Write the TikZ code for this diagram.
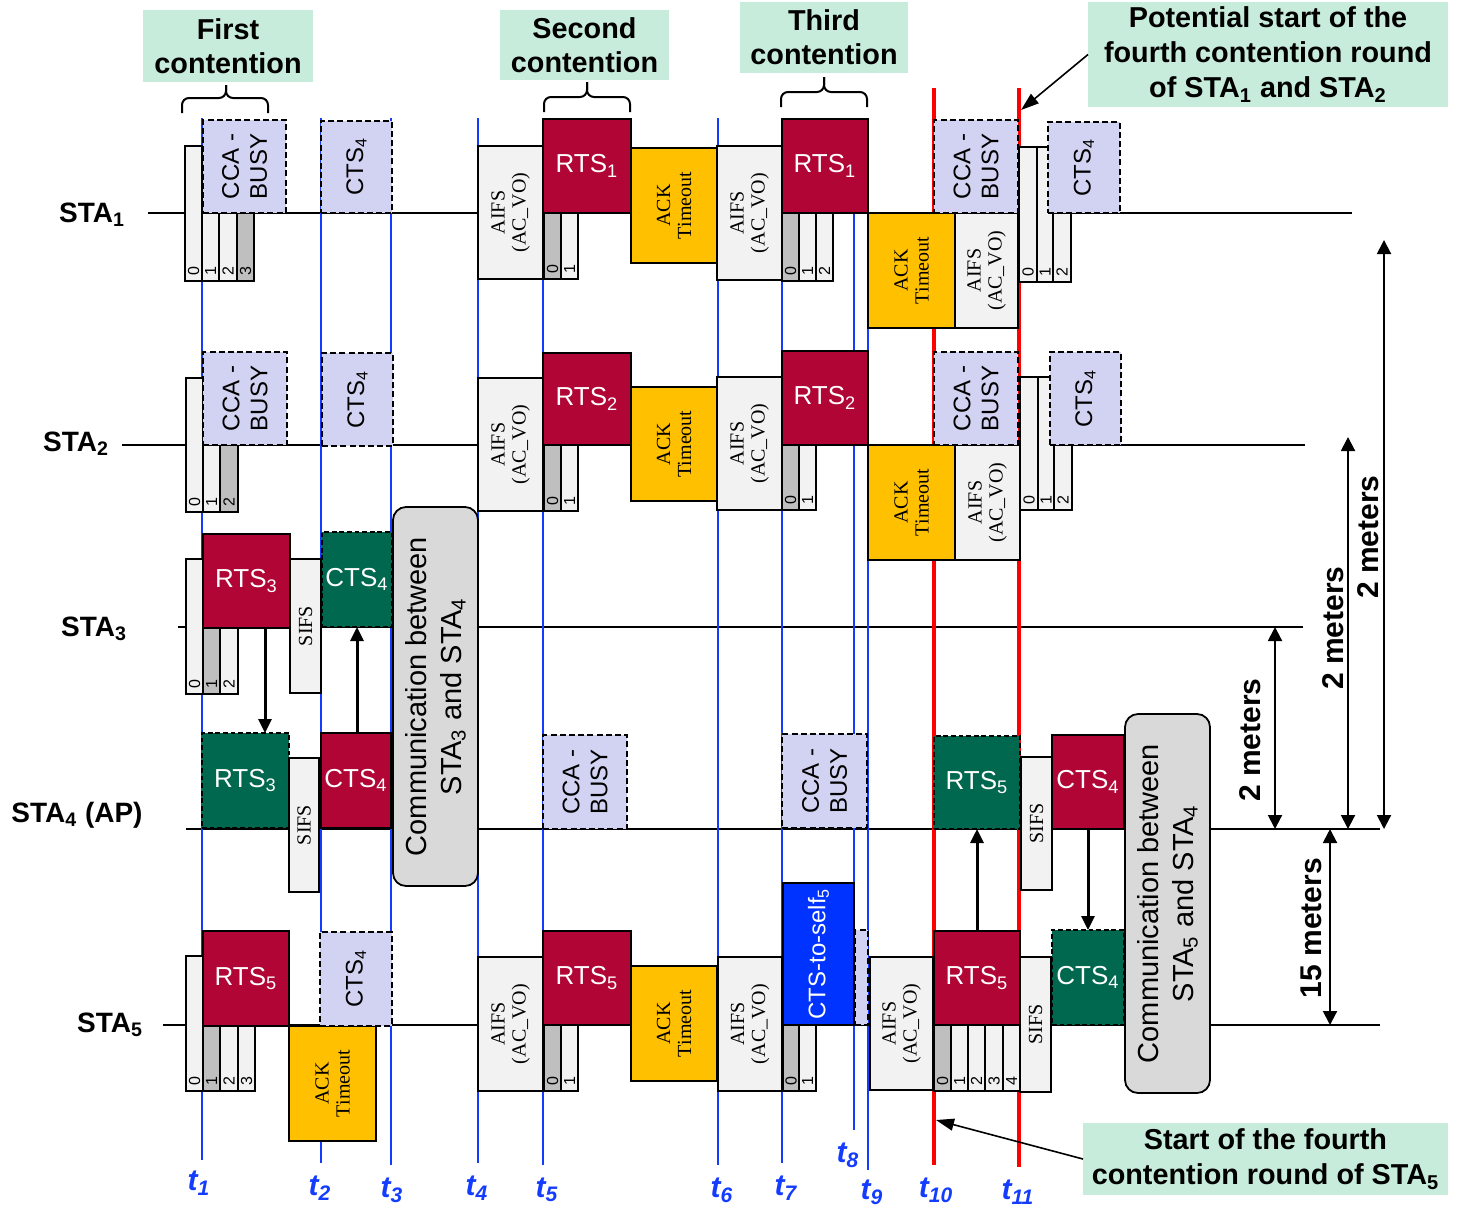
\documentclass[tikz,border=0pt]{standalone}
\usepackage{fontspec}
\setmainfont{Liberation Sans}
\newfontfamily\serifs{Liberation Serif}
\usetikzlibrary{fit,arrows.meta}
\definecolor{crim}{RGB}{176,5,53}
\definecolor{dgreen}{RGB}{0,104,78}
\definecolor{lav}{RGB}{210,210,242}
\definecolor{amber}{RGB}{255,192,0}
\definecolor{lgray}{RGB}{242,242,242}
\definecolor{mgray}{RGB}{191,191,191}
\definecolor{cgray}{RGB}{217,217,217}
\definecolor{mint}{RGB}{200,236,220}
\definecolor{tblue}{RGB}{20,60,255}
\definecolor{cblue}{RGB}{0,51,255}
\newcommand\sbs[1]{\textsubscript{#1}}
\newcommand\bx[6]{\node[#1, fit={(#3,#4) (#5,#6)}] (#2) {};}
\tikzset{
  bxbase/.style={draw=black, line width=0.9pt, inner sep=0pt, outer sep=0pt},
  aifsbox/.style={bxbase, fill=lgray},
  slotw/.style={bxbase, fill=lgray},
  slotg/.style={bxbase, fill=mgray},
  rtsbox/.style={bxbase, fill=crim},
  grnbox/.style={bxbase, fill=dgreen, line width=1pt, dash pattern=on 2.4pt off 1.4pt},
  lavbox/.style={bxbase, fill=lav, line width=1.2pt, dash pattern=on 3pt off 1.6pt},
  ackbox/.style={bxbase, fill=amber},
  selfbox/.style={bxbase, fill=cblue},
  commbox/.style={bxbase, fill=cgray, rounded corners=6.5pt},
  mintbox/.style={fill=mint, inner sep=0pt, outer sep=0pt},
  wtxt/.style={text=white, font=\fontsize{13}{15}\selectfont},
  lavt/.style={rotate=90, align=center, font=\fontsize{12}{14}\selectfont},
  sert/.style={rotate=90, align=center, font=\serifs\fontsize{10}{10.5}\selectfont},
  digt/.style={rotate=90, anchor=west, inner xsep=2.5pt, inner ysep=0pt, font=\fontsize{8}{9}\selectfont},
  commt/.style={rotate=90, align=center, font=\fontsize{14.5}{17.5}\selectfont},
  annt/.style={align=center, font=\bfseries\fontsize{14.4}{17.2}\selectfont},
  stalab/.style={font=\bfseries\fontsize{14}{16}\selectfont},
  tlab/.style={text=tblue, font=\bfseries\itshape\fontsize{15}{17}\selectfont},
  measlab/.style={rotate=90, font=\bfseries\fontsize{15}{17}\selectfont},
  rowline/.style={line width=1pt},
  tline/.style={draw=tblue, line width=1pt},
  rline/.style={draw=red, line width=1.8pt},
  arr/.style={line width=1.5pt, -{Triangle[length=7pt,width=6.5pt]}},
  meas/.style={line width=1pt, {Triangle[length=7pt,width=7pt]}-{Triangle[length=7pt,width=7pt]}},
  annarr/.style={line width=0.8pt, -{Triangle[length=9pt,width=6pt]}},
  bracket/.style={line width=1pt, rounded corners=3.5pt}
}
\begin{document}
\begin{tikzpicture}[x=0.5pt, y=-0.5pt]
\useasboundingbox (0,0) rectangle (1460,1211);

% row lines
\draw[rowline] (148,213) -- (1352,213);
\draw[rowline] (122,445) -- (1305,445);
\draw[rowline] (178,627) -- (1303,627);
\draw[rowline] (186,829) -- (1380,829);
\draw[rowline] (163,1025) -- (1380,1025);

% row labels
\node[stalab] (l1) at (92,215) {STA\sbs{1}};
\node[stalab] (l2) at (76,444) {STA\sbs{2}};
\node[stalab] (l3) at (94,629) {STA\sbs{3}};
\node[stalab] (l4) at (77,815) {STA\sbs{4} (AP)};
\node[stalab] (l5) at (110,1025) {STA\sbs{5}};

% time lines
\draw[tline] (202,118) -- (202,1160);
\draw[tline] (321,118) -- (321,1163);
\draw[tline] (391,118) -- (391,1165);
\draw[tline] (478,118) -- (478,1163);
\draw[tline] (543,118) -- (543,1165);
\draw[tline] (718,118) -- (718,1165);
\draw[tline] (782,118) -- (782,1163);
\draw[tline] (854,118) -- (854,1130);
\draw[tline] (868,118) -- (868,1170);
\draw[rline] (934,88) -- (934,1165);
\draw[rline] (1019,88) -- (1019,1167);

\node[tlab] (t1) at (199,1183) {t\sbs{1}};
\node[tlab] (t2) at (320,1188) {t\sbs{2}};
\node[tlab] (t3) at (392,1190) {t\sbs{3}};
\node[tlab] (t4) at (477,1188) {t\sbs{4}};
\node[tlab] (t5) at (547,1190) {t\sbs{5}};
\node[tlab] (t6) at (722,1190) {t\sbs{6}};
\node[tlab] (t7) at (786,1188) {t\sbs{7}};
\node[tlab] (t8) at (848,1155) {t\sbs{8}};
\node[tlab] (t9) at (872,1192) {t\sbs{9}};
\node[tlab] (t10) at (936,1190) {t\sbs{10}};
\node[tlab] (t11) at (1018,1192) {t\sbs{11}};

% ===== STA1 =====
\bx{slotw}{s1a0}{185}{146}{202}{281}
\bx{slotw}{s1a1}{202}{213}{219}{281}
\bx{slotw}{s1a2}{219}{213}{237}{281}
\bx{slotg}{s1a3}{237}{213}{254}{281}
\node[digt] at (s1a0.south) {0};
\node[digt] at (s1a1.south) {1};
\node[digt] at (s1a2.south) {2};
\node[digt] at (s1a3.south) {3};
\bx{lavbox}{cca1a}{203}{120}{286}{213}
\node[lavt] at (cca1a) {CCA -\\BUSY};
\bx{lavbox}{cts1a}{321}{121}{392}{213}
\node[lavt] at (cts1a) {CTS\sbs{4}};
\bx{aifsbox}{aifs1a}{478}{146}{543}{279}
\node[sert] at (aifs1a) {AIFS\\(AC\_VO)};
\bx{rtsbox}{rts1a}{543}{119}{631}{213}
\node[wtxt] at (rts1a) {RTS\sbs{1}};
\bx{slotg}{s1b0}{544}{213}{561}{279}
\bx{slotw}{s1b1}{561}{213}{578}{279}
\node[digt] at (s1b0.south) {0};
\node[digt] at (s1b1.south) {1};
\bx{ackbox}{ack1a}{631}{148}{717}{263}
\node[sert] at (ack1a) {ACK\\Timeout};
\bx{aifsbox}{aifs1b}{717}{146}{782}{280}
\node[sert] at (aifs1b) {AIFS\\(AC\_VO)};
\bx{rtsbox}{rts1b}{782}{119}{868}{213}
\node[wtxt] at (rts1b) {RTS\sbs{1}};
\bx{slotg}{s1c0}{782}{213}{799}{281}
\bx{slotw}{s1c1}{799}{213}{816}{281}
\bx{slotw}{s1c2}{816}{213}{833}{281}
\node[digt] at (s1c0.south) {0};
\node[digt] at (s1c1.south) {1};
\node[digt] at (s1c2.south) {2};
\bx{ackbox}{ack1b}{868}{213}{955}{328}
\node[sert] at (ack1b) {ACK\\Timeout};
\bx{aifsbox}{aifs1c}{955}{213}{1018}{328}
\node[sert] at (aifs1c) {AIFS\\(AC\_VO)};
\bx{lavbox}{cca1b}{934}{120}{1018}{213}
\node[lavt] at (cca1b) {CCA -\\BUSY};
\bx{slotw}{s1d0}{1019}{147}{1037}{282}
\bx{slotw}{s1d1}{1037}{147}{1053}{282}
\bx{slotw}{s1d2}{1053}{213}{1071}{282}
\node[digt] at (s1d0.south) {0};
\node[digt] at (s1d1.south) {1};
\node[digt] at (s1d2.south) {2};
\bx{lavbox}{cts1b}{1048}{122}{1120}{213}
\node[lavt] at (cts1b) {CTS\sbs{4}};

% ===== STA2 =====
\bx{slotw}{s2a0}{186}{378}{203}{512}
\bx{slotw}{s2a1}{203}{445}{220}{512}
\bx{slotg}{s2a2}{220}{445}{238}{512}
\node[digt] at (s2a0.south) {0};
\node[digt] at (s2a1.south) {1};
\node[digt] at (s2a2.south) {2};
\bx{lavbox}{cca2a}{203}{352}{287}{445}
\node[lavt] at (cca2a) {CCA -\\BUSY};
\bx{lavbox}{cts2a}{322}{353}{393}{446}
\node[lavt] at (cts2a) {CTS\sbs{4}};
\bx{aifsbox}{aifs2a}{478}{378}{543}{511}
\node[sert] at (aifs2a) {AIFS\\(AC\_VO)};
\bx{rtsbox}{rts2a}{543}{353}{631}{445}
\node[wtxt] at (rts2a) {RTS\sbs{2}};
\bx{slotg}{s2b0}{544}{445}{561}{511}
\bx{slotw}{s2b1}{561}{445}{578}{511}
\node[digt] at (s2b0.south) {0};
\node[digt] at (s2b1.south) {1};
\bx{ackbox}{ack2a}{631}{387}{717}{501}
\node[sert] at (ack2a) {ACK\\Timeout};
\bx{aifsbox}{aifs2b}{717}{377}{782}{510}
\node[sert] at (aifs2b) {AIFS\\(AC\_VO)};
\bx{rtsbox}{rts2b}{782}{351}{868}{445}
\node[wtxt] at (rts2b) {RTS\sbs{2}};
\bx{slotg}{s2c0}{782}{445}{799}{510}
\bx{slotw}{s2c1}{799}{445}{816}{510}
\node[digt] at (s2c0.south) {0};
\node[digt] at (s2c1.south) {1};
\bx{ackbox}{ack2b}{868}{445}{955}{560}
\node[sert] at (ack2b) {ACK\\Timeout};
\bx{aifsbox}{aifs2c}{955}{445}{1020}{560}
\node[sert] at (aifs2c) {AIFS\\(AC\_VO)};
\bx{lavbox}{cca2b}{934}{352}{1018}{445}
\node[lavt] at (cca2b) {CCA -\\BUSY};
\bx{slotw}{s2d0}{1020}{377}{1038}{510}
\bx{slotw}{s2d1}{1038}{377}{1054}{510}
\bx{slotw}{s2d2}{1054}{445}{1072}{510}
\node[digt] at (s2d0.south) {0};
\node[digt] at (s2d1.south) {1};
\node[digt] at (s2d2.south) {2};
\bx{lavbox}{cts2b}{1050}{352}{1121}{445}
\node[lavt] at (cts2b) {CTS\sbs{4}};

% ===== STA3 =====
\bx{slotw}{s3a0}{186}{559}{203}{694}
\bx{slotg}{s3a1}{203}{627}{220}{694}
\bx{slotw}{s3a2}{220}{627}{238}{694}
\node[digt] at (s3a0.south) {0};
\node[digt] at (s3a1.south) {1};
\node[digt] at (s3a2.south) {2};
\bx{rtsbox}{rts3a}{203}{534}{290}{628}
\node[wtxt] at (rts3a) {RTS\sbs{3}};
\bx{aifsbox}{sifs3}{290}{559}{321}{693}
\node[sert] at (sifs3) {SIFS};
\bx{grnbox}{cts3}{322}{532}{392}{627}
\node[wtxt] at (cts3) {CTS\sbs{4}};
\bx{commbox}{comm1}{393}{507}{478}{886}
\node[commt] at (comm1) {Communication between\\STA\sbs{3} and STA\sbs{4}};

% ===== STA4 =====
\bx{grnbox}{rts4a}{202}{733}{289}{828}
\node[wtxt] at (rts4a) {RTS\sbs{3}};
\bx{aifsbox}{sifs4a}{289}{758}{319}{892}
\node[sert] at (sifs4a) {SIFS};
\bx{rtsbox}{cts4a}{321}{733}{391}{828}
\node[wtxt] at (cts4a) {CTS\sbs{4}};
\bx{lavbox}{cca4a}{543}{735}{627}{829}
\node[lavt] at (cca4a) {CCA -\\BUSY};
\bx{lavbox}{cca4b}{782}{734}{867}{828}
\node[lavt] at (cca4b) {CCA -\\BUSY};
\bx{grnbox}{rts4b}{934}{736}{1020}{829}
\node[wtxt] at (rts4b) {RTS\sbs{5}};
\bx{aifsbox}{sifs4b}{1021}{757}{1052}{890}
\node[sert] at (sifs4b) {SIFS};
\bx{rtsbox}{cts4b}{1052}{735}{1124}{829}
\node[wtxt] at (cts4b) {CTS\sbs{4}};
\bx{commbox}{comm2}{1125}{714}{1210}{1093}
\node[commt] at (comm2) {Communication between\\STA\sbs{5} and STA\sbs{4}};

% ===== STA5 =====
\bx{slotw}{s5a0}{186}{956}{203}{1091}
\bx{slotg}{s5a1}{203}{1025}{220}{1091}
\bx{slotw}{s5a2}{220}{1025}{238}{1091}
\bx{slotw}{s5a3}{238}{1025}{255}{1091}
\node[digt] at (s5a0.south) {0};
\node[digt] at (s5a1.south) {1};
\node[digt] at (s5a2.south) {2};
\node[digt] at (s5a3.south) {3};
\bx{rtsbox}{rts5a}{203}{931}{289}{1026}
\node[wtxt] at (rts5a) {RTS\sbs{5}};
\bx{ackbox}{ack5a}{289}{1026}{376}{1141}
\node[sert] at (ack5a) {ACK\\Timeout};
\bx{lavbox}{cts5a}{320}{932}{392}{1026}
\node[lavt] at (cts5a) {CTS\sbs{4}};
\bx{aifsbox}{aifs5a}{478}{957}{543}{1091}
\node[sert] at (aifs5a) {AIFS\\(AC\_VO)};
\bx{rtsbox}{rts5b}{543}{931}{631}{1025}
\node[wtxt] at (rts5b) {RTS\sbs{5}};
\bx{slotg}{s5b0}{544}{1025}{561}{1091}
\bx{slotw}{s5b1}{561}{1025}{578}{1091}
\node[digt] at (s5b0.south) {0};
\node[digt] at (s5b1.south) {1};
\bx{ackbox}{ack5b}{631}{966}{717}{1081}
\node[sert] at (ack5b) {ACK\\Timeout};
\bx{aifsbox}{aifs5b}{718}{957}{782}{1091}
\node[sert] at (aifs5b) {AIFS\\(AC\_VO)};
\bx{lavbox}{lav5s}{855}{930}{868}{1025}
\bx{selfbox}{self5}{783}{883}{854}{1025}
\node[lavt, text=white] at (self5) {CTS-to-self\sbs{5}};
\bx{slotg}{s5c0}{783}{1025}{799}{1091}
\bx{slotw}{s5c1}{799}{1025}{816}{1091}
\node[digt] at (s5c0.south) {0};
\node[digt] at (s5c1.south) {1};
\bx{aifsbox}{aifs5c}{870}{957}{933}{1090}
\node[sert] at (aifs5c) {AIFS\\(AC\_VO)};
\bx{rtsbox}{rts5c}{934}{931}{1020}{1025}
\node[wtxt] at (rts5c) {RTS\sbs{5}};
\bx{slotg}{s5d0}{934}{1025}{951}{1091}
\bx{slotw}{s5d1}{951}{1025}{968}{1091}
\bx{slotw}{s5d2}{968}{1025}{985}{1091}
\bx{slotw}{s5d3}{985}{1025}{1003}{1091}
\bx{slotw}{s5d4}{1003}{1025}{1020}{1091}
\node[digt] at (s5d0.south) {0};
\node[digt] at (s5d1.south) {1};
\node[digt] at (s5d2.south) {2};
\node[digt] at (s5d3.south) {3};
\node[digt] at (s5d4.south) {4};
\bx{aifsbox}{sifs5}{1020}{957}{1051}{1092}
\node[sert] at (sifs5) {SIFS};
\bx{grnbox}{cts5b}{1052}{930}{1124}{1025}
\node[wtxt] at (cts5b) {CTS\sbs{4}};

% ===== frame exchange arrows =====
\coordinate (xa1) at (265,0);
\coordinate (xa2) at (357,0);
\coordinate (xa3) at (977,0);
\coordinate (xa4) at (1088,0);
\draw[arr] (rts3a.south -| xa1) -- (rts4a.north -| xa1);
\draw[arr] (cts4a.north -| xa2) -- (cts3.south -| xa2);
\draw[arr] (rts5c.north -| xa3) -- (rts4b.south -| xa3);
\draw[arr] (cts4b.south -| xa4) -- (cts5b.north -| xa4);

% ===== distance arrows =====
\coordinate (m3a) at (1275,627); \coordinate (m3b) at (1275,829);
\coordinate (m2a) at (1348,437); \coordinate (m2b) at (1348,829);
\coordinate (m1a) at (1384,240); \coordinate (m1b) at (1384,829);
\coordinate (m5a) at (1330,829); \coordinate (m5b) at (1330,1025);
\draw[meas] (m3a) -- (m3b);
\draw[meas] (m2a) -- (m2b);
\draw[meas] (m1a) -- (m1b);
\draw[meas] (m5a) -- (m5b);
\node[measlab] (d3) at (1250,740) {2 meters};
\node[measlab] (d2) at (1333,628) {2 meters};
\node[measlab] (d1) at (1368,537) {2 meters};
\node[measlab] (d5) at (1311,928) {15 meters};

% ===== annotations =====
\bx{mintbox}{c1}{143}{10}{313}{82}
\node[annt] at (c1) {First\\contention};
\bx{mintbox}{c2}{500}{10}{669}{80}
\node[annt] at (c2) {Second\\contention};
\bx{mintbox}{c3}{740}{2}{908}{73}
\node[annt] at (c3) {Third\\contention};
\bx{mintbox}{pot}{1088}{2}{1448}{107}
\node[annt, font=\bfseries\fontsize{14.4}{17.5}\selectfont] at (pot) {Potential start of the\\fourth contention round\\of STA\sbs{1} and STA\sbs{2}};
\bx{mintbox}{sof}{1083}{1123}{1448}{1195}
\node[annt, font=\bfseries\fontsize{14.4}{17.5}\selectfont] at (sof) {Start of the fourth\\contention round of STA\sbs{5}};

% brackets
\draw[bracket] (182,113) -- (182,98) -- (226,98) -- (226,85);
\draw[bracket] (268,113) -- (268,98) -- (226,98) -- (226,85);
\draw[bracket] (544,112) -- (544,97) -- (587,97) -- (587,82);
\draw[bracket] (630,112) -- (630,97) -- (587,97) -- (587,82);
\draw[bracket] (781,107) -- (781,92) -- (824,92) -- (824,77);
\draw[bracket] (867,107) -- (867,92) -- (824,92) -- (824,77);

\coordinate (p11) at (1021,110);
\coordinate (p10) at (936,1120);
\draw[annarr] (pot.west) -- (p11);
\draw[annarr] (sof.west) -- (p10);
\end{tikzpicture}
\end{document}
